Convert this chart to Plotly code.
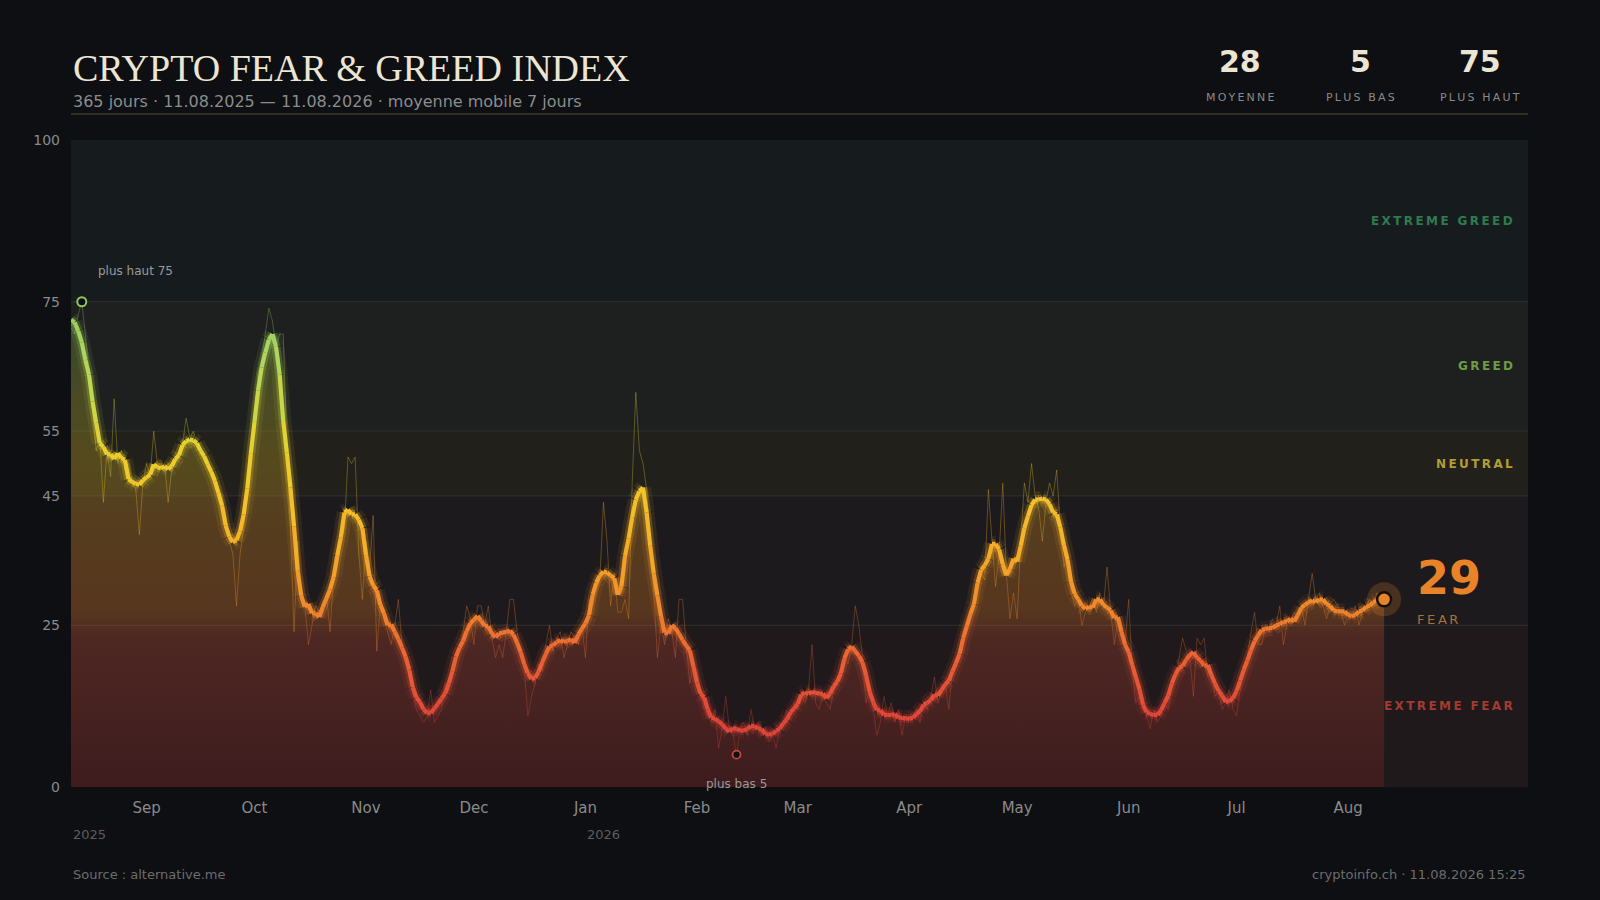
import pandas as pd
import plotly.graph_objects as go

# Crypto Fear & Greed index, one value per day, 11.08.2025 -> 11.08.2026
start_date = "2025-08-11"
aug25 = [71, 70, 73, 75, 70, 64, 58, 52, 54, 44, 52, 48, 60, 50, 52, 49, 50, 47, 46, 39, 47]
sep25 = [50, 48, 55, 50, 49, 50, 44, 49, 50, 52, 53, 57, 54, 55, 53, 52, 51, 50, 49, 48,
         46, 45, 42, 38, 36, 28, 36, 40, 47, 52]
oct25 = [56, 64, 66, 70, 74, 72, 68, 70, 70, 52, 40, 24, 38, 30, 28, 22, 25, 28, 27, 28,
         30, 24, 33, 34, 38, 40, 51, 50, 51, 36, 29]
nov25 = [38, 34, 42, 21, 28, 26, 24, 22, 25, 29, 22, 20, 18, 15, 12, 11, 10, 11, 15, 10,
         11, 12, 16, 15, 17, 20, 21, 24, 28, 26]
dec25 = [22, 28, 28, 25, 28, 23, 20, 22, 20, 24, 29, 29, 24, 21, 18, 11, 14, 16, 19, 18,
         22, 25, 21, 23, 24, 20, 22, 24, 23, 22, 25]
jan26 = [20, 29, 28, 30, 32, 44, 38, 28, 33, 27, 27, 29, 26, 47, 61, 52, 50, 46, 38, 30,
         20, 25, 22, 26, 24, 20, 29, 29, 22, 16, 19]
feb26 = [18, 15, 12, 11, 10, 12, 6, 9, 14, 9, 8, 5, 9, 10, 8, 12, 9, 10, 8, 9,
         7, 8, 6, 9, 10, 12, 11, 13]
mar26 = [12, 14, 13, 15, 22, 13, 12, 14, 13, 12, 15, 17, 18, 20, 19, 22, 28, 25, 20, 13,
         15, 12, 8, 10, 14, 11, 13, 10, 12, 8, 11]
apr26 = [10, 11, 12, 10, 13, 12, 14, 17, 13, 15, 16, 12, 18, 20, 21, 23, 24, 26, 29, 31,
         33, 32, 46, 38, 31, 36, 47, 33, 26, 30]
may26 = [26, 38, 47, 44, 50, 45, 43, 38, 44, 47, 45, 49, 40, 34, 36, 30, 28, 29, 25, 27,
         28, 29, 27, 30, 28, 34, 27, 22, 26, 24, 22]
jun26 = [29, 18, 13, 14, 12, 11, 9, 12, 10, 11, 13, 12, 16, 17, 20, 23, 21, 20, 14, 23,
         22, 23, 17, 18, 14, 15, 12, 13, 15, 12]
jul26 = [11, 15, 18, 20, 24, 27, 22, 22, 25, 24, 26, 25, 28, 22, 25, 26, 27, 26, 28, 25,
         29, 33, 29, 30, 28, 26, 28, 29, 28, 27, 25]
aug26 = [27, 26, 28, 25, 27, 28, 29, 28, 30, 29, 29]
fg_months = [aug25, sep25, oct25, nov25, dec25, jan26, feb26, mar26, apr26, may26, jun26, jul26, aug26]

band_edges = [0, 25, 45, 55, 75, 100]
band_names = ["EXTREME FEAR", "FEAR", "NEUTRAL", "GREED", "EXTREME GREED"]
band_fill = ["#1f191c", "#1d1a1d", "#21201b", "#1d201f", "#161c1e"]
band_text = ["#a33b31", "#b0703a", "#b39d33", "#6d9c45", "#2f7b4e"]

tick_dates = ["2025-09-01", "2025-10-01", "2025-11-01", "2025-12-01", "2026-01-01", "2026-02-01",
              "2026-03-01", "2026-04-01", "2026-05-01", "2026-06-01", "2026-07-01", "2026-08-01"]
tick_names = ["Sep", "Oct", "Nov", "Dec", "Jan", "Feb", "Mar", "Apr", "May", "Jun", "Jul", "Aug"]
year_dates = ["2025-08-11", "2026-01-01"]
year_names = ["2025", "2026"]

# colour of the smoothed line by index level
line_stops = [(0, "#d23c3a"), (12, "#e04838"), (20, "#ea6234"), (28, "#f0882c"), (36, "#f5aa28"),
              (45, "#f3c42a"), (52, "#e8cf2e"), (60, "#c6d848"), (68, "#a8d462"), (75, "#90c858"),
              (100, "#80c060")]

# area fill, vertical gradient from 0 to 75
area_scale = [[0, "rgba(134,35,35,0.3)"], [0.3067, "rgba(186,72,50,0.3)"],
              [0.36, "rgba(222,120,34,0.3)"], [0.5333, "rgba(218,142,32,0.3)"],
              [0.6667, "rgba(206,172,37,0.3)"], [0.8, "rgba(182,175,44,0.3)"],
              [0.9067, "rgba(132,165,61,0.3)"], [1, "rgba(120,165,70,0.3)"]]

BG = "#0d0f12"
CREAM = "#ece5d3"
GREY = "#8a8a8a"


def hex_rgb(h):
    h = h.lstrip("#")
    return tuple(int(h[i:i + 2], 16) for i in (0, 2, 4))


def line_color(v):
    for (v0, c0), (v1, c1) in zip(line_stops, line_stops[1:]):
        if v <= v1:
            t = min(max((v - v0) / (v1 - v0), 0), 1)
            a, b = hex_rgb(c0), hex_rgb(c1)
            return tuple(round(p + (q - p) * t) for p, q in zip(a, b))
    return hex_rgb(line_stops[-1][1])


def spaced(s):
    return "\u2009".join(s)


values = [v for month in fg_months for v in month]
df = pd.DataFrame({"date": pd.date_range(start_date, periods=len(values), freq="D"), "value": values})
df["ma7"] = df["value"].rolling(7, center=True, min_periods=1).mean()

xs = list(df["date"])
ma = list(df["ma7"])
raw = list(df["value"])


def add_segments(fig, y, width, opacity, step=1.0):
    groups = {}
    for i in range(len(xs) - 1):
        key = round((y[i] + y[i + 1]) / 2 / step) * step
        gx, gy = groups.setdefault(key, ([], []))
        gx += [xs[i], xs[i + 1], None]
        gy += [y[i], y[i + 1], None]
    for key in sorted(groups):
        gx, gy = groups[key]
        r, g, b = line_color(key)
        fig.add_trace(go.Scatter(x=gx, y=gy, mode="lines", hoverinfo="skip", showlegend=False,
                                 line=dict(color=f"rgba({r},{g},{b},{opacity})", width=width)))


fig = go.Figure()

# area under the moving average
fig.add_trace(go.Scatter(
    x=xs, y=ma, mode="lines", fill="tozeroy", line=dict(width=0), hoverinfo="skip", showlegend=False,
    fillgradient=dict(type="vertical", start=0, stop=75, colorscale=area_scale),
))

# raw daily values, thin
add_segments(fig, raw, 1.0, 0.32, step=2)
# glow + core of the 7 day average
add_segments(fig, ma, 16, 0.09, step=2)
add_segments(fig, ma, 9, 0.24, step=2)
add_segments(fig, ma, 4.2, 1.0, step=1)

i_max = df["value"].idxmax()
i_min = df["value"].idxmin()
last = df.iloc[-1]

fig.add_trace(go.Scatter(x=[df["date"][i_max]], y=[df["value"][i_max]], mode="markers", hoverinfo="skip",
                         showlegend=False,
                         marker=dict(size=9, color=BG, line=dict(color="#8fc75c", width=2))))
fig.add_trace(go.Scatter(x=[df["date"][i_min]], y=[df["value"][i_min]], mode="markers", hoverinfo="skip",
                         showlegend=False,
                         marker=dict(size=8, color=BG, line=dict(color="#c8453a", width=1.8))))
fig.add_trace(go.Scatter(x=[last["date"]], y=[last["value"]], mode="markers", hoverinfo="skip",
                         showlegend=False, marker=dict(size=34, color="rgba(232,131,42,0.22)")))
fig.add_trace(go.Scatter(x=[last["date"]], y=[last["value"]], mode="markers", hoverinfo="skip",
                         showlegend=False,
                         marker=dict(size=14, color="#e8832a", line=dict(color="#141010", width=2.5))))

shapes = []
for lo, hi, col in zip(band_edges[:-1], band_edges[1:], band_fill):
    shapes.append(dict(type="rect", xref="paper", x0=0, x1=1, yref="y", y0=lo, y1=hi,
                       fillcolor=col, line=dict(width=0), layer="below"))
for edge in band_edges[1:-1]:
    shapes.append(dict(type="line", xref="paper", x0=0, x1=1, yref="y", y0=edge, y1=edge,
                       line=dict(color="#313331", width=1), layer="between"))
shapes.append(dict(type="line", xref="paper", x0=0, x1=1, yref="paper", y0=1.040, y1=1.040,
                   line=dict(color="#3d3a2c", width=1.5)))

ann = []
ann.append(dict(text="CRYPTO FEAR &amp; GREED INDEX", xref="paper", yref="paper", x=0, y=1.111,
                xanchor="left", yanchor="middle", showarrow=False,
                font=dict(family="Liberation Serif", size=38, color=CREAM)))
ann.append(dict(text=f"{len(values) - 1} jours · {df['date'].iloc[0]:%d.%m.%Y} — {last['date']:%d.%m.%Y}"
                     " · moyenne mobile 7 jours",
                xref="paper", yref="paper", x=0, y=1.060, xanchor="left", yanchor="middle", showarrow=False,
                font=dict(family="DejaVu Sans", size=16, color="#8c8c8c")))

stats = [round(df["value"].mean()), df["value"].min(), df["value"].max()]
stat_labels = ["MOYENNE", "PLUS BAS", "PLUS HAUT"]
stat_x = [0.8025, 0.8849, 0.9673]
for val, lab, sx in zip(stats, stat_labels, stat_x):
    ann.append(dict(text=f"<b>{val}</b>", xref="paper", yref="paper", x=sx, y=1.121, showarrow=False,
                    xanchor="center", yanchor="middle", font=dict(family="DejaVu Sans", size=30, color=CREAM)))
    ann.append(dict(text=spaced(lab), xref="paper", yref="paper", x=sx, y=1.066, showarrow=False,
                    xanchor="center", yanchor="middle", font=dict(family="DejaVu Sans", size=11, color=GREY)))

for k, (lo, hi) in enumerate(zip(band_edges[:-1], band_edges[1:])):
    if band_names[k] == "FEAR":
        continue
    ann.append(dict(text=f"<b>{spaced(band_names[k])}</b>", xref="paper", yref="y", x=0.9913,
                    y=(lo + hi) / 2, xanchor="right", yanchor="middle", showarrow=False,
                    font=dict(family="DejaVu Sans", size=12, color=band_text[k])))

ann.append(dict(text=f"<b>{last['value']}</b>", xref="paper", yref="y", x=0.9225, y=32.3, xanchor="left",
                yanchor="middle", showarrow=False, font=dict(family="DejaVu Sans", size=46, color="#e8832a")))
ann.append(dict(text=spaced("FEAR"), xref="paper", yref="y", x=0.9225, y=25.9, xanchor="left",
                yanchor="middle", showarrow=False, font=dict(family="DejaVu Sans", size=13, color="#a8703c")))

ann.append(dict(text=f"plus haut {df['value'][i_max]}", x=df["date"][i_max], y=79.7, xshift=14,
                xanchor="left", yanchor="middle", showarrow=False,
                font=dict(family="DejaVu Sans", size=12, color="#9a9a9a")))
ann.append(dict(text=f"plus bas {df['value'][i_min]}", x=df["date"][i_min], y=0.5,
                xanchor="center", yanchor="middle", showarrow=False,
                font=dict(family="DejaVu Sans", size=12, color="#9a9a9a")))

for yd, yn in zip(year_dates, year_names):
    ann.append(dict(text=yn, x=yd, xref="x", yref="paper", y=-0.074, xanchor="left", yanchor="middle",
                    showarrow=False, font=dict(family="DejaVu Sans", size=13, color="#5c5e5e")))

ann.append(dict(text="Source : alternative.me", xref="paper", yref="paper", x=0, y=-0.1345,
                xanchor="left", yanchor="middle", showarrow=False,
                font=dict(family="DejaVu Sans", size=13, color="#6c6c6c")))
ann.append(dict(text=f"cryptoinfo.ch · {last['date']:%d.%m.%Y} 15:25", xref="paper", yref="paper", x=1,
                y=-0.1345, xanchor="right", yanchor="middle", showarrow=False,
                font=dict(family="DejaVu Sans", size=13, color="#6c6c6c")))

fig.update_layout(
    width=1600, height=900,
    margin=dict(l=71, r=72, t=140, b=113),
    paper_bgcolor=BG, plot_bgcolor=BG,
    shapes=shapes, annotations=ann, showlegend=False,
    font=dict(family="DejaVu Sans", color=GREY),
)
fig.update_xaxes(type="date", range=["2025-08-11", "2026-09-20"], tickvals=tick_dates, ticktext=tick_names,
                 showgrid=False, zeroline=False, showline=False, ticks="", ticklabelstandoff=10,
                 tickfont=dict(family="DejaVu Sans", size=15, color=GREY))
fig.update_yaxes(range=[0, 100], tickvals=band_edges, showgrid=False, zeroline=False, showline=False,
                 ticks="", ticklabelstandoff=10, tickfont=dict(family="DejaVu Sans", size=14, color=GREY))

# page without the default body margin so the figure fills the window
fig.write_html("out.html", config={"displayModeBar": False},
               post_script="document.body.style.margin='0';"
                           "document.body.style.background='#0d0f12';")
